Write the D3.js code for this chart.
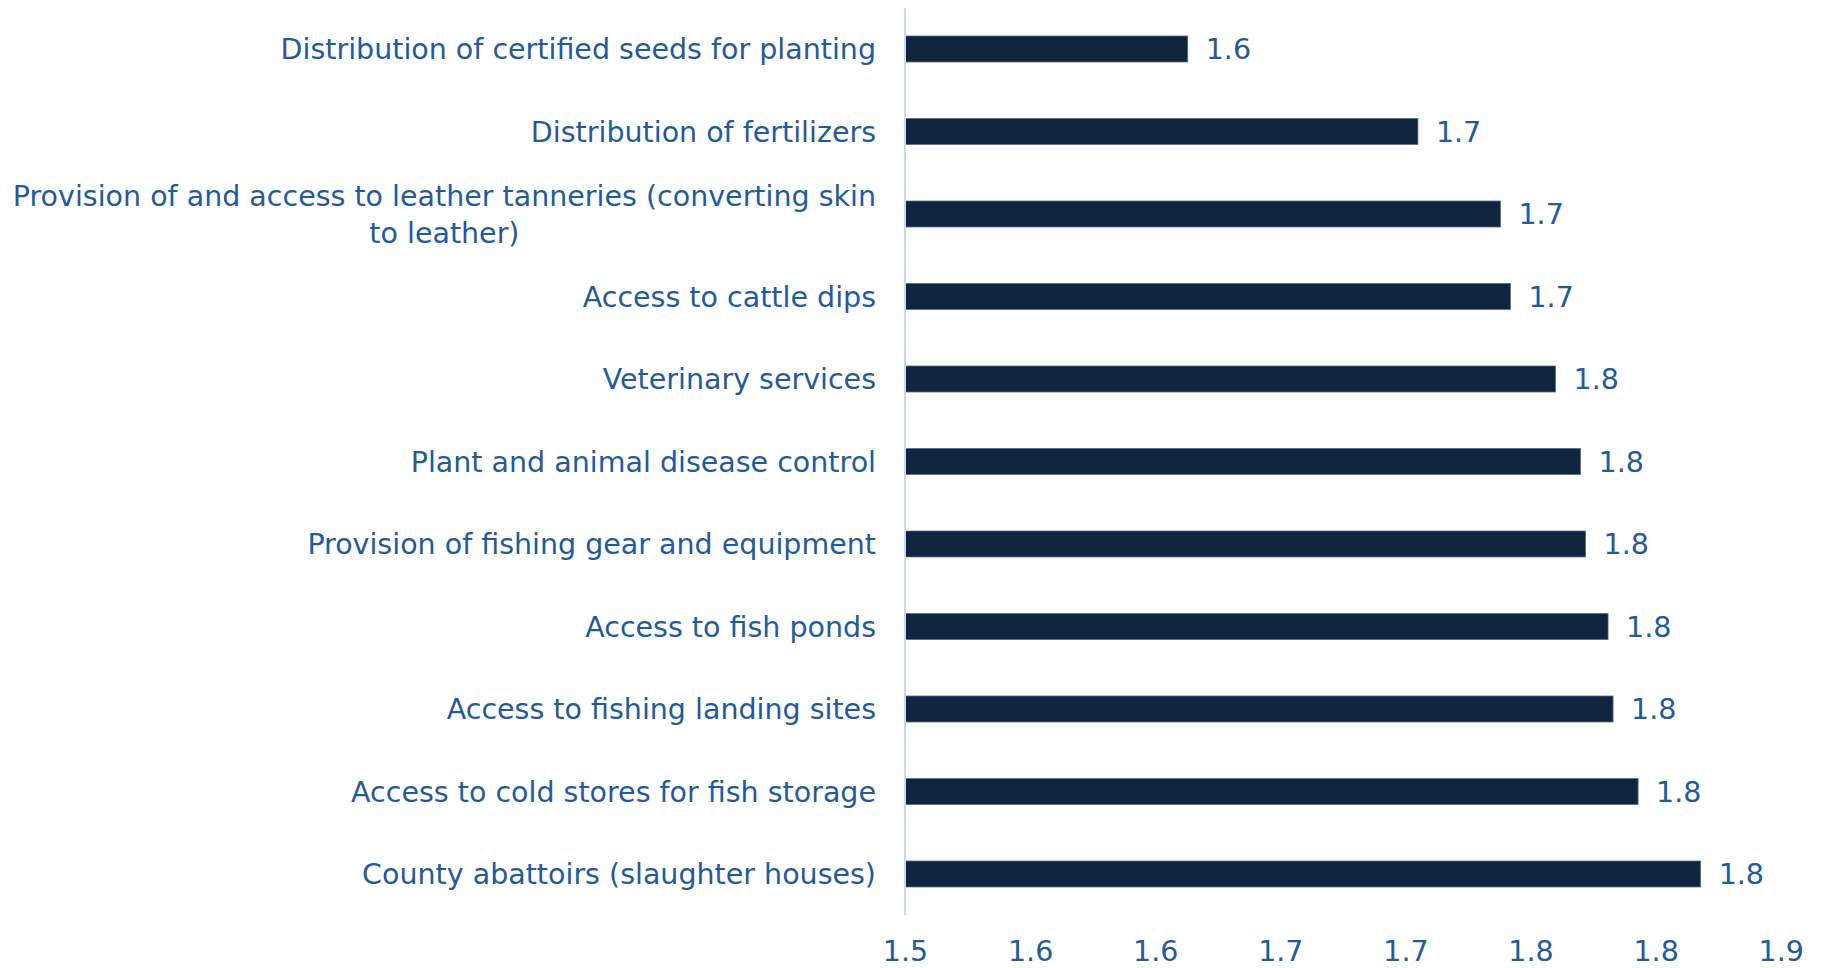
<!DOCTYPE html>
<html>
<head>
<meta charset="utf-8">
<script src="https://cdn.jsdelivr.net/npm/d3@7"></script>
<style>
  body { margin: 0; background: #fff; }
  svg { display: block; }
</style>
</head>
<body>
<svg id="chart"></svg>
<script>
const categories = [
  "Distribution of certified seeds for planting",
  "Distribution of fertilizers",
  "Provision of and access to leather tanneries (converting skin\nto leather)",
  "Access to cattle dips",
  "Veterinary services",
  "Plant and animal disease control",
  "Provision of fishing gear and equipment",
  "Access to fish ponds",
  "Access to fishing landing sites",
  "Access to cold stores for fish storage",
  "County abattoirs (slaughter houses)"
];
const values = [1.613, 1.705, 1.738, 1.742, 1.760, 1.770, 1.772, 1.781, 1.783, 1.793, 1.818];
const tickValues = [1.5, 1.55, 1.6, 1.65, 1.7, 1.75, 1.8, 1.85];
const tickLabels = ["1.5", "1.6", "1.6", "1.7", "1.7", "1.8", "1.8", "1.9"];

const width = 1821, height = 968;
const font = "'DejaVu Sans', Verdana, sans-serif";
const textColor = "#235a9b";
const fontSize = 28.5;

const svg = d3.select("#chart")
  .attr("width", width)
  .attr("height", height);

const x = d3.scaleLinear()
  .domain([1.5, 1.85])
  .range([905, 1780.7]);

const y = d3.scaleBand()
  .domain(categories)
  .range([7.75, 915.25])
  .paddingInner(0.685)
  .paddingOuter(0.3425);

// bars
svg.append("g")
  .selectAll("rect")
  .data(values)
  .enter()
  .append("rect")
  .attr("x", x(1.5))
  .attr("y", (d, i) => y(categories[i]))
  .attr("width", d => x(d) - x(1.5))
  .attr("height", y.bandwidth())
  .attr("fill", "#0f243e")
  .attr("stroke", "#5d6c80")
  .attr("stroke-width", 0.8);

// value labels
svg.append("g")
  .selectAll("text")
  .data(values)
  .enter()
  .append("text")
  .attr("x", d => x(d) + 18)
  .attr("y", (d, i) => y(categories[i]) + y.bandwidth() / 2)
  .attr("dy", "0.36em")
  .style("font-family", font)
  .style("font-size", fontSize + "px")
  .style("fill", textColor)
  .text(d => d3.format(".1f")(d));

// category labels, right aligned, multi-line blocks centred on themselves
const labelRight = 876;
const lineGap = 37;
const catG = svg.append("g");
categories.forEach(c => {
  const lines = c.split("\n");
  const cy = y(c) + y.bandwidth() / 2;
  const t = catG.append("text")
    .style("font-family", font)
    .style("font-size", fontSize + "px")
    .style("fill", textColor);
  lines.forEach((ln, j) => {
    t.append("tspan")
      .attr("x", 0)
      .attr("y", cy + (j - (lines.length - 1) / 2) * lineGap)
      .attr("dy", "0.36em")
      .text(ln);
  });
  if (lines.length === 1) {
    t.attr("text-anchor", "end").selectAll("tspan").attr("x", labelRight);
  } else {
    const w = t.node().getBBox().width;
    t.attr("text-anchor", "middle").selectAll("tspan").attr("x", labelRight - w / 2);
  }
});

// bottom axis (labels only)
const xAxis = d3.axisBottom(x)
  .tickValues(tickValues)
  .tickFormat((d, i) => tickLabels[i])
  .tickSize(0)
  .tickPadding(0);

const ax = svg.append("g")
  .attr("transform", "translate(0,951)")
  .call(xAxis);
ax.select(".domain").remove();
ax.selectAll("text")
  .attr("dy", "0.36em")
  .style("font-family", font)
  .style("font-size", fontSize + "px")
  .style("fill", textColor);

// vertical baseline
svg.append("line")
  .attr("x1", x(1.5))
  .attr("x2", x(1.5))
  .attr("y1", y.range()[0])
  .attr("y2", y.range()[1])
  .attr("stroke", "#c6d9f1")
  .attr("stroke-width", 2);
</script>
</body>
</html>
